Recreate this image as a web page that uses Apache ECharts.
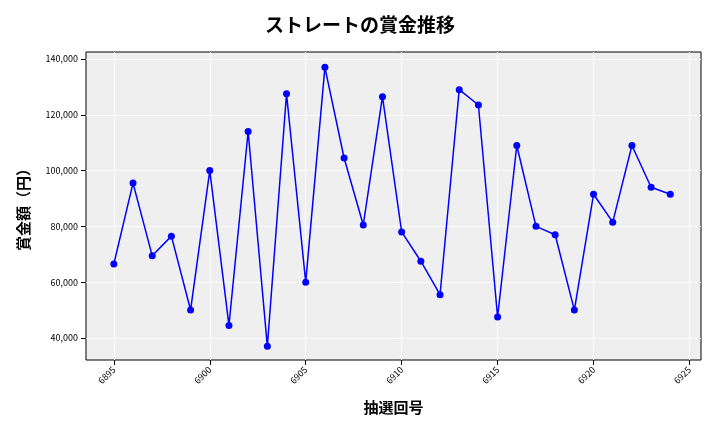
<!DOCTYPE html>
<html>
<head>
<meta charset="utf-8">
<script src="https://cdn.jsdelivr.net/npm/echarts@6/dist/echarts.min.js"></script>
<style>html,body{margin:0;padding:0;background:#fff}</style>
</head>
<body>
<div id="canvas" style="width:720px;height:432px"></div>
<script>
const draws = [6895,6896,6897,6898,6899,6900,6901,6902,6903,6904,6905,6906,6907,6908,6909,
  6910,6911,6912,6913,6914,6915,6916,6917,6918,6919,6920,6921,6922,6923,6924];
const prizes = [66500,95500,69500,76500,50000,100000,44500,114000,37000,127500,60000,137000,104500,80500,126500,
  78000,67500,55500,129000,123500,47500,109000,80000,77000,50000,91500,81500,109000,94000,91500];
const xTicks = [6895,6900,6905,6910,6915,6920,6925];
const yTicks = [40000,60000,80000,100000,120000,140000];

const font = '"Noto Sans CJK JP", sans-serif';
const chart = echarts.init(document.getElementById('canvas'));
chart.setOption({
  animation: false,
  title: {
    text: 'ストレートの賞金推移', left: 'center', top: 10,
    textStyle: {fontFamily: font, fontSize: 19, fontWeight: 'bold', color: '#000'}
  },
  grid: {left: 86, right: 19, top: 52, bottom: 72, backgroundColor: '#efefef', show: true, borderWidth: 1, borderColor: '#000'},
  xAxis: {
    type: 'value', min: 6893.55, max: 6925.6,
    name: '抽選回号', nameLocation: 'middle', nameGap: 40,
    nameTextStyle: {fontFamily: font, fontSize: 15, fontWeight: 'bold', color: '#000'},
    axisLine: {show: false},
    axisTick: {show: true, customValues: xTicks, lineStyle: {color: '#000'}},
    axisLabel: {customValues: xTicks, rotate: 45, fontSize: 9, color: '#000', fontFamily: font,
      formatter: v => String(v)},
    splitLine: {show: true, lineStyle: {color: '#fff', width: 1}}
  },
  yAxis: {
    type: 'value', min: 32100, max: 142500,
    name: '賞金額（円）', nameLocation: 'middle', nameGap: 55, nameRotate: 90,
    nameTextStyle: {fontFamily: font, fontSize: 15, fontWeight: 'bold', color: '#000'},
    axisLine: {show: false},
    axisTick: {show: true, customValues: yTicks, lineStyle: {color: '#000'}},
    axisLabel: {customValues: yTicks, fontSize: 9, color: '#000', fontFamily: font,
      formatter: v => v.toLocaleString('en-US')},
    splitLine: {show: true, lineStyle: {color: '#fff', width: 1}}
  },
  series: [{
    type: 'line',
    data: draws.map((d, i) => [d, prizes[i]]),
    symbol: 'circle', symbolSize: 7,
    lineStyle: {color: '#0000ff', width: 1.5},
    itemStyle: {color: '#0000ff'}
  }]
});
</script>
</body>
</html>
